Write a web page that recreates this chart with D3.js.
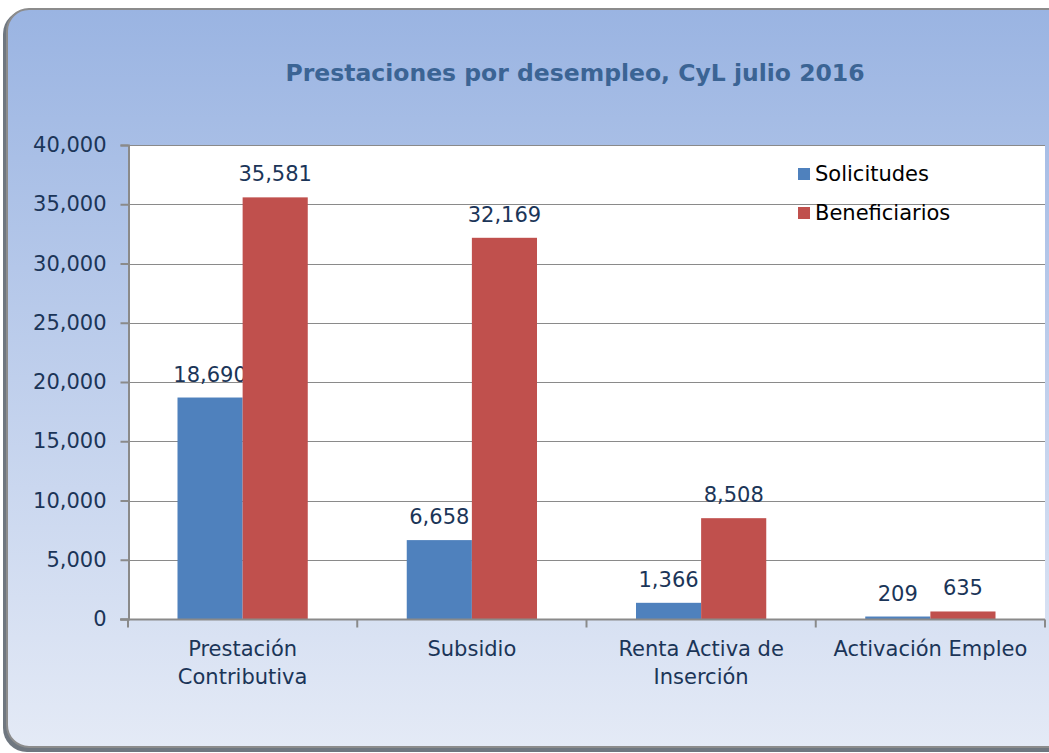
<!DOCTYPE html>
<html>
<head>
<meta charset="utf-8">
<script src="https://cdn.jsdelivr.net/npm/d3@7"></script>
<style>
  body { margin: 0; background: #fff; }
  text { font-family: "DejaVu Sans", sans-serif; }
</style>
</head>
<body>
<svg id="chart" width="1049" height="753"></svg>
<script>
// data
var categories = [["Prestación", "Contributiva"], ["Subsidio"], ["Renta Activa de", "Inserción"], ["Activación Empleo"]];
var seriesNames = ["Solicitudes", "Beneficiarios"];
var solicitudes = [18690, 6658, 1366, 209];
var beneficiarios = [35581, 32169, 8508, 635];
var yTicks = [0, 5000, 10000, 15000, 20000, 25000, 30000, 35000, 40000];
var colors = ["#4f81bd", "#c0504d"];

var svg = d3.select("#chart");
var fmt = d3.format(",");

// background frame with gradient
var defs = svg.append("defs");
var grad = defs.append("linearGradient").attr("id", "bg").attr("x1", 0).attr("y1", 0).attr("x2", 0).attr("y2", 1);
grad.append("stop").attr("offset", "0%").attr("stop-color", "#9ab4e2");
grad.append("stop").attr("offset", "100%").attr("stop-color", "#e4eaf6");

// shadow
svg.append("rect")
    .attr("x", 3).attr("y", 10).attr("width", 1080).attr("height", 742)
    .attr("rx", 24).attr("fill", "#6f7780");
svg.append("rect")
    .attr("x", 7).attr("y", 9).attr("width", 1080).attr("height", 738)
    .attr("rx", 22).attr("fill", "url(#bg)")
    .attr("stroke", "#8c8c8c").attr("stroke-width", 2);

// title
svg.append("text")
    .attr("x", 575).attr("y", 81)
    .attr("text-anchor", "middle")
    .style("font-size", "23.5px").style("font-weight", "bold")
    .attr("fill", "#3b6494")
    .text("Prestaciones por desempleo, CyL julio 2016");

var margin = {left: 128, top: 145, right: 1045, bottom: 619};

var x = d3.scaleBand()
    .domain(d3.range(categories.length))
    .range([margin.left, margin.right]);
var x1 = d3.scaleBand()
    .domain(d3.range(seriesNames.length))
    .range([0, x.bandwidth()])
    .paddingOuter(0.76).paddingInner(0);
var y = d3.scaleLinear().domain([0, 40000]).range([margin.bottom, margin.top]);

// plot area
svg.append("rect")
    .attr("x", margin.left).attr("y", margin.top)
    .attr("width", margin.right - margin.left).attr("height", margin.bottom - margin.top)
    .attr("fill", "#fff");

// gridlines
svg.append("g").selectAll("line")
    .data(yTicks.slice(1))
    .enter().append("line")
    .attr("x1", margin.left).attr("x2", margin.right)
    .attr("y1", function(d) { return Math.round(y(d)) + 0.5; })
    .attr("y2", function(d) { return Math.round(y(d)) + 0.5; })
    .attr("stroke", "#8a8a8a").attr("stroke-width", 1);

// y axis
var yAxis = svg.append("g")
    .attr("transform", "translate(" + (margin.left + 0.5) + ",0)")
    .call(d3.axisLeft(y).tickValues(yTicks).tickFormat(fmt).tickSize(8).tickPadding(14));
yAxis.select(".domain").attr("stroke", "#8a8a8a").attr("stroke-width", 2);
yAxis.selectAll(".tick line").attr("stroke", "#8a8a8a").attr("stroke-width", 2);
yAxis.selectAll(".tick text").attr("fill", "#1b3558").style("font-size", "21px")
    .style("font-family", "DejaVu Sans, sans-serif");

// bars
var series = [solicitudes, beneficiarios];
series.forEach(function(vals, s) {
    svg.append("g").selectAll("rect")
        .data(vals)
        .enter().append("rect")
        .attr("x", function(d, i) { return x(i) + x1(s); })
        .attr("y", function(d) { return y(d); })
        .attr("width", x1.bandwidth())
        .attr("height", function(d) { return y(0) - y(d); })
        .attr("fill", colors[s]);

    svg.append("g").selectAll("text")
        .data(vals)
        .enter().append("text")
        .attr("x", function(d, i) { return x(i) + x1(s) + x1.bandwidth() / 2; })
        .attr("y", function(d) { return y(d) - 16; })
        .attr("text-anchor", "middle")
        .attr("fill", "#1b3558")
        .style("font-size", "21px")
        .text(function(d) { return fmt(d); });
});

// x axis
var xAxis = svg.append("g")
    .attr("transform", "translate(0," + (margin.bottom + 0.5) + ")");
xAxis.append("line")
    .attr("x1", margin.left - 8).attr("x2", margin.right)
    .attr("stroke", "#8a8a8a").attr("stroke-width", 2);
xAxis.selectAll(".xt")
    .data(d3.range(categories.length + 1))
    .enter().append("line")
    .attr("x1", function(d) { return margin.left + d * x.bandwidth(); })
    .attr("x2", function(d) { return margin.left + d * x.bandwidth(); })
    .attr("y1", 0).attr("y2", 8)
    .attr("stroke", "#8a8a8a").attr("stroke-width", 2);
xAxis.selectAll(".lab")
    .data(categories)
    .enter().append("text")
    .attr("x", function(d, i) { return x(i) + x.bandwidth() / 2; })
    .attr("y", 36)
    .attr("text-anchor", "middle")
    .attr("fill", "#1b3558")
    .style("font-size", "21px")
    .each(function(d) {
        var t = d3.select(this);
        d.forEach(function(line, k) {
            t.append("tspan").attr("x", t.attr("x")).attr("dy", k ? 28 : 0).text(line);
        });
    });

// legend
var legend = svg.append("g").attr("transform", "translate(798,174)");
seriesNames.forEach(function(name, i) {
    var g = legend.append("g").attr("transform", "translate(0," + (i * 39) + ")");
    g.append("rect").attr("x", 0).attr("y", -6).attr("width", 12).attr("height", 12).attr("fill", colors[i]);
    g.append("text").attr("x", 17).attr("y", 7).attr("fill", "#000").style("font-size", "21px").text(name);
});
</script>
</body>
</html>
